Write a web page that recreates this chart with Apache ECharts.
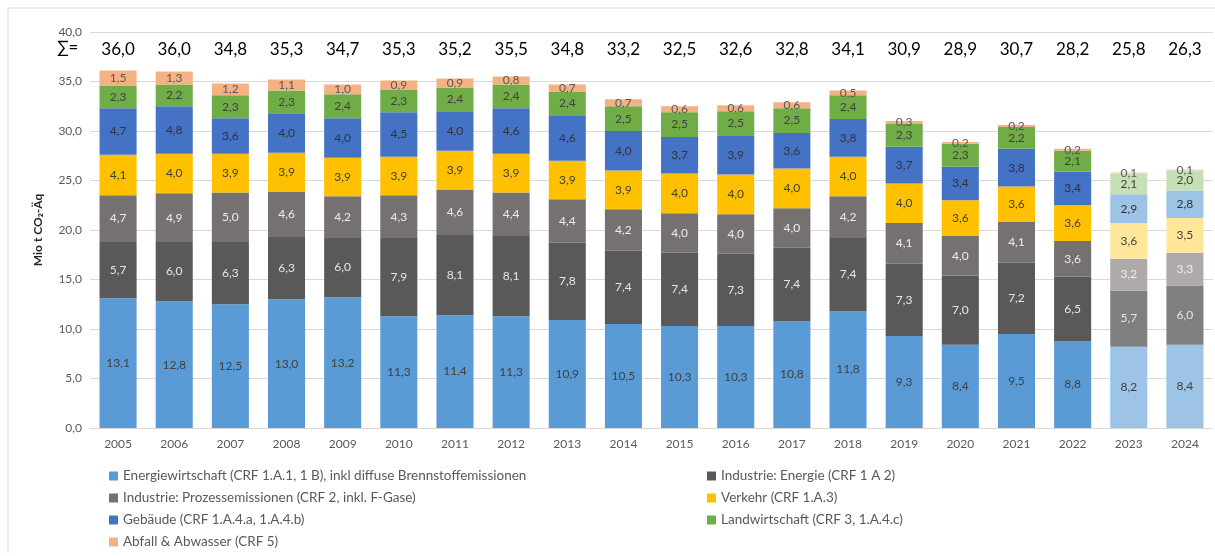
<!DOCTYPE html>
<html>
<head>
<meta charset="utf-8">
<script src="https://cdn.jsdelivr.net/npm/echarts@6/dist/echarts.min.js"></script>
<style>
  html, body { margin: 0; padding: 0; background: #fff; }
  #chart { width: 1215px; height: 556px; }
</style>
</head>
<body>
<div id="chart"></div>
<script>
const years = ['2005','2006','2007','2008','2009','2010','2011','2012','2013','2014',
  '2015','2016','2017','2018','2019','2020','2021','2022','2023','2024'];
// 2023 und 2024 sind hell dargestellt
const projectedYears = ['2023','2024'];

const energiewirtschaft = [13.1,12.8,12.5,13.0,13.2,11.3,11.4,11.3,10.9,10.5,10.3,10.3,10.8,11.8,9.3,8.4,9.5,8.8,8.2,8.4];
const industrieEnergie  = [5.7,6.0,6.3,6.3,6.0,7.9,8.1,8.1,7.8,7.4,7.4,7.3,7.4,7.4,7.3,7.0,7.2,6.5,5.7,6.0];
const prozessemissionen = [4.7,4.9,5.0,4.6,4.2,4.3,4.6,4.4,4.4,4.2,4.0,4.0,4.0,4.2,4.1,4.0,4.1,3.6,3.2,3.3];
const verkehr           = [4.1,4.0,3.9,3.9,3.9,3.9,3.9,3.9,3.9,3.9,4.0,4.0,4.0,4.0,4.0,3.6,3.6,3.6,3.6,3.5];
const gebaeude          = [4.7,4.8,3.6,4.0,4.0,4.5,4.0,4.6,4.6,4.0,3.7,3.9,3.6,3.8,3.7,3.4,3.8,3.4,2.9,2.8];
const landwirtschaft    = [2.3,2.2,2.3,2.3,2.4,2.3,2.4,2.4,2.4,2.5,2.5,2.5,2.5,2.4,2.3,2.3,2.2,2.1,2.1,2.0];
const abfall            = [1.5,1.3,1.2,1.1,1.0,0.9,0.9,0.8,0.7,0.7,0.6,0.6,0.6,0.5,0.3,0.2,0.2,0.2,0.1,0.1];
const summen            = [36.0,36.0,34.8,35.3,34.7,35.3,35.2,35.5,34.8,33.2,32.5,32.6,32.8,34.1,30.9,28.9,30.7,28.2,25.8,26.3];

const fmt = (v) => v.toFixed(1).replace('.', ',');
const FONT = 'Lato';

// name, werte, farbe, helle farbe (Prognose), labelfarbe
const sektoren = [
  ['Energiewirtschaft (CRF 1.A.1, 1 B), inkl diffuse Brennstoffemissionen', energiewirtschaft, '#5b9bd5', '#9dc3e6', '#404040'],
  ['Industrie: Energie (CRF 1 A 2)', industrieEnergie, '#595959', '#7f7f7f', '#e6e6e6'],
  ['Industrie: Prozessemissionen (CRF 2, inkl. F-Gase)', prozessemissionen, '#767171', '#aeaaaa', '#ececec'],
  ['Verkehr (CRF 1.A.3)', verkehr, '#ffc000', '#ffe699', '#404040'],
  ['Gebäude (CRF 1.A.4.a, 1.A.4.b)', gebaeude, '#4472c4', '#9dc3e6', '#333333'],
  ['Landwirtschaft (CRF 3, 1.A.4.c)', landwirtschaft, '#70ad47', '#c5e0b4', '#404040'],
  ['Abfall & Abwasser (CRF 5)', abfall, '#f4b183', '#f8cbad', '#595959']
];

const series = sektoren.map(([name, werte, farbe, hell, labelFarbe]) => ({
  name: name,
  type: 'bar',
  stack: 'total',
  barCategoryGap: '34%',
  itemStyle: { color: farbe },
  label: {
    show: true,
    position: 'inside',
    color: labelFarbe,
    fontFamily: FONT,
    fontSize: 12,
    formatter: (p) => fmt(p.value)
  },
  data: werte.map((v, i) => ({
    value: v,
    itemStyle: projectedYears.includes(years[i]) ? { color: hell } : undefined
  }))
}));

let chart = echarts.init(document.getElementById('chart'));

const option = {
  animation: false,
  textStyle: { fontFamily: FONT },
  grid: { left: 90, right: 2, top: 32, bottom: 128 },
  graphic: [
    // Rahmen oben und links
    { type: 'line', shape: { x1: 8, y1: 8, x2: 1215, y2: 8 }, style: { stroke: '#d9d9d9', lineWidth: 1 } },
    { type: 'line', shape: { x1: 8, y1: 8, x2: 8, y2: 553 }, style: { stroke: '#d9d9d9', lineWidth: 1 } },
    { type: 'text', left: 57, top: 39, style: { text: '∑=', fontSize: 17, fontFamily: FONT, fill: '#000' } }
  ],
  legend: [
    {
      orient: 'vertical', left: 104, top: 464, itemGap: 8,
      itemWidth: 9, itemHeight: 9, icon: 'rect',
      textStyle: { fontFamily: FONT, fontSize: 13.5, color: '#595959' },
      data: [sektoren[0][0], sektoren[2][0], sektoren[4][0], sektoren[6][0]]
    },
    {
      orient: 'vertical', left: 702, top: 464, itemGap: 8,
      itemWidth: 9, itemHeight: 9, icon: 'rect',
      textStyle: { fontFamily: FONT, fontSize: 13.5, color: '#595959' },
      data: [sektoren[1][0], sektoren[3][0], sektoren[5][0]]
    }
  ],
  xAxis: [
    {
      type: 'category',
      data: years,
      axisLine: { lineStyle: { color: '#d9d9d9' } },
      axisTick: { show: false },
      axisLabel: { color: '#595959', fontSize: 12, margin: 10 }
    },
    {
      type: 'category',
      position: 'top',
      data: summen.map(fmt),
      axisLine: { show: false },
      axisTick: { show: false },
      axisLabel: { inside: true, margin: 9, color: '#000', fontSize: 17 }
    }
  ],
  yAxis: {
    type: 'value',
    min: 0,
    max: 40,
    interval: 5,
    name: 'Mio t CO₂-Äq',
    nameLocation: 'middle',
    nameGap: 46,
    nameTextStyle: { fontSize: 12, fontWeight: 'bold', color: '#262626' },
    axisLabel: { color: '#595959', fontSize: 12, formatter: (v) => fmt(v) },
    splitLine: { lineStyle: { color: '#d9d9d9' } }
  },
  series: series
};

chart.setOption(option);
</script>
</body>
</html>
